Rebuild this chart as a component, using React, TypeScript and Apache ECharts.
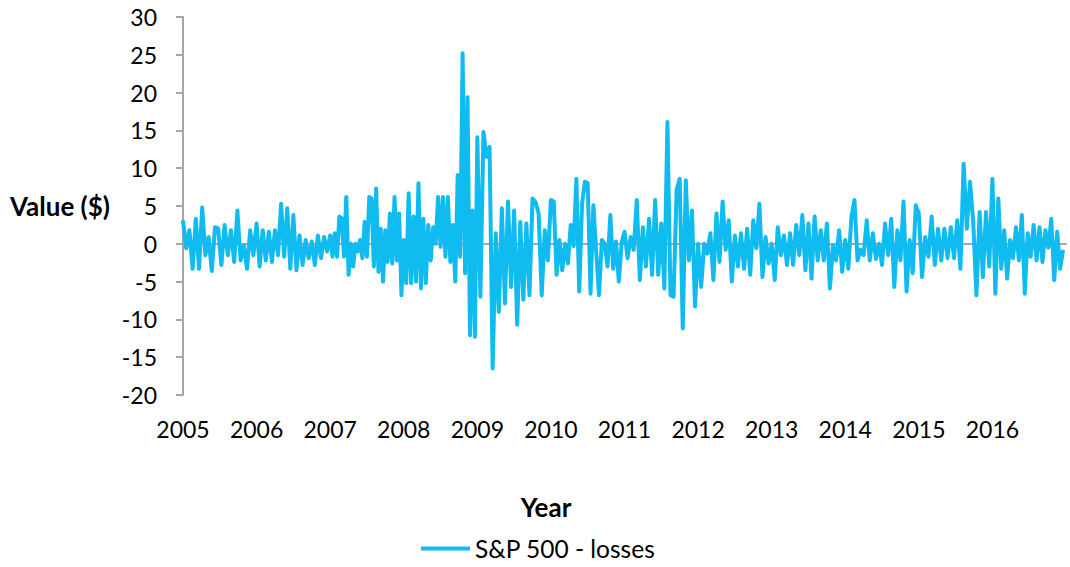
import React, { useEffect, useRef } from "react";
import * as echarts from "echarts";

const years = [2005, 2006, 2007, 2008, 2009, 2010, 2011, 2012, 2013, 2014, 2015, 2016];
const v2005 = [3.1, -0.6, 1.8, -3.3, 3.3, -3.3, 4.8, -1.5, 0.9, -3.6, 2.2, 2.0, -2.8, 2.5, -1.5, 1.8, -2.4, 4.4, -2.2, -0.2, -3.3, 1.8, -1.5];
const v2006 = [2.7, -3.0, 1.8, -2.2, 1.6, -2.4, 1.8, -1.5, 5.3, -1.7, 4.7, -3.3, 3.8, -3.5, 1.1, -2.8, 0.5, -1.9, 0.3, -2.8, 1.1, -1.9, 0.9, -1.0];
const v2007 = [1.1, -1.7, 1.4, -1.7, 3.6, 3.4, -1.7, 6.2, -4.1, 0, -3.0, 0, -1.0, 0.5, -1.9, 2.9, -1.7, 6.2, 6.0, -3.0, 7.3, -3.7, 2.0, -5.0, 1.8, -2.4, 4.0, -2.6, 6.2, -2.2, 4.0, -6.8];
const v2008 = [0.5, -5.2, 6.7, -5.2, 3.6, -5.0, 8.0, -5.9, 3.3, -5.2, 2.5, -2.2, 2.2, 0, 6.2, -0.4, 6.2, -1.7, 6.2, -2.4, 2.5, -5.0, 9.1, -1.7, 25.2, -3.9, 19.4, -12.1, 4.4, -12.3];
const v2009 = [14.1, -7.0, 14.8, 11.5, 12.8, -16.5, 1.4, -9.0, 4.7, -7.9, 5.6, -5.7, 4.4, -10.7, 2.9, -7.4, 2.7, -6.8, 6.0, 5.5, 4.0, -6.8, 1.8, -2.2];
const v2010 = [5.8, 5.6, -4.1, 0.5, -3.5, 0, -2.6, 2.5, -0.3, 8.6, -6.3, 5.3, 8.2, 8.0, -6.6, 5.1, -1.0, -6.8, 0.5, 0, -3.0, 3.8, -3.3, 0.3, -5.0, 0.2];
const v2011 = [1.6, -1.9, 0.9, -0.8, 5.8, -4.8, 2.2, -3.0, 3.3, -4.1, 5.8, -4.1, 2.7, -5.9, 16.1, -6.8, -7.0, 7.1, 8.6, -11.2, 8.4, -2.2, 4.4, -8.3];
const v2012 = [0, -5.7, 0, -1.3, 1.4, -4.8, 4.0, -2.4, 5.6, -0.8, 3.1, -5.0, 1.1, -3.0, 1.4, -3.3, 2.0, -4.1, 3.1, -0.6, 5.3, -4.4, 0.9, -2.6];
const v2013 = [0, -4.8, 2.2, -1.5, 1.1, -2.8, 1.4, -2.8, 2.5, -1.5, 3.8, -3.5, 2.7, -4.6, 3.6, -2.2, 1.8, -2.2, 2.7, -5.9, -0.2, -2.2, 1.8, -3.7];
const v2014 = [0.5, -3.3, 3.5, 5.8, -2.2, -0.8, -1.5, 3.1, -2.2, 1.4, -2.0, 0, -2.8, 2.7, -1.5, 3.3, -5.7, 1.8, -2.2, 5.6, -6.3, 0.5, -3.9, 5.1];
const v2015 = [4.0, -4.4, 0.9, -1.7, 3.6, -2.8, 2.0, -2.2, 2.0, -1.9, 2.2, -1.9, 3.1, -3.3, 10.6, 2.0, 8.2, 2.9, -6.8, 4.2, -4.4, 4.2, -3.0];
const v2016 = [8.6, -6.6, 6.0, -3.3, 1.8, -4.6, 0.5, -1.9, 2.2, -2.2, 3.8, -6.6, 1.4, -1.7, 2.5, -2.2, 2.2, -2.4, 1.8, -0.5, 3.3, -4.8, 1.6, -3.3, -0.8];
const yearValues = [v2005, v2006, v2007, v2008, v2009, v2010, v2011, v2012, v2013, v2014, v2015, v2016];

const seriesName = "S&P 500 - losses";
const xTitle = "Year";
const yTitle = "Value ($)";

const FONT = "Lato";

export default function App() {
  const ref = useRef<HTMLDivElement>(null);
  useEffect(() => {
    if (!ref.current) return;
    const chart = echarts.init(ref.current, null, { renderer: "svg" });
    const data = yearValues.flatMap((vals, k) =>
      vals.map((v, i) => [years[k] + i / vals.length, v])
    );
    chart.setOption({
      animation: false,
      backgroundColor: "#ffffff",
      textStyle: { fontFamily: FONT },
      grid: { left: 183, top: 17, right: 4, bottom: 172, containLabel: false },
      xAxis: [
        {
          type: "value",
          min: 2005,
          max: 2017,
          interval: 1,
          position: "bottom",
          axisLine: { show: false, onZero: false },
          axisTick: { show: false },
          splitLine: { show: false },
          axisLabel: {
            show: true,
            margin: 22,
            fontSize: 23,
            color: "#000",
            fontFamily: FONT,
            showMaxLabel: false,
            formatter: (v: number) => (v >= 2017 ? "" : String(v)),
          },
        },
        {
          type: "value",
          min: 2005,
          max: 2017,
          interval: 1,
          position: "bottom",
          axisLine: { show: true, onZero: true, lineStyle: { color: "#A6A6A6", width: 2 } },
          axisTick: { show: false },
          axisLabel: { show: false },
          splitLine: { show: false },
        },
      ],
      yAxis: {
        type: "value",
        min: -20,
        max: 30,
        interval: 5,
        axisLine: { show: true, onZero: false, lineStyle: { color: "#A6A6A6", width: 2 } },
        axisTick: { show: true, inside: false, length: 7, lineStyle: { color: "#A6A6A6", width: 2 } },
        splitLine: { show: false },
        axisLabel: { margin: 26, fontSize: 23, color: "#000", fontFamily: FONT },
      },
      legend: {
        show: true,
        left: 421,
        top: 536,
        padding: 0,
        icon: "rect",
        itemWidth: 49,
        itemHeight: 4,
        itemGap: 10,
        textStyle: { fontSize: 24.5, color: "#000", fontFamily: FONT },
        data: [seriesName],
      },
      graphic: [
        {
          type: "text",
          left: 10,
          top: 193,
          style: { text: yTitle, fontSize: 26, fontWeight: "bold", fill: "#000", fontFamily: FONT },
        },
        {
          type: "text",
          x: 546,
          y: 507,
          style: {
            text: xTitle,
            fontSize: 26,
            fontWeight: "bold",
            fill: "#000",
            fontFamily: FONT,
            align: "center",
            verticalAlign: "middle",
          },
        },
      ],
      series: [
        {
          name: seriesName,
          type: "line",
          xAxisIndex: 0,
          data,
          showSymbol: false,
          symbol: "none",
          lineStyle: { color: "#0FBBEF", width: 4, join: "round" },
          itemStyle: { color: "#0FBBEF" },
          z: 3,
        },
      ],
    });
    return () => chart.dispose();
  }, []);
  return (
    <div
      ref={ref}
      style={{ position: "fixed", left: 0, top: 0, width: 1070, height: 567 }}
    />
  );
}
